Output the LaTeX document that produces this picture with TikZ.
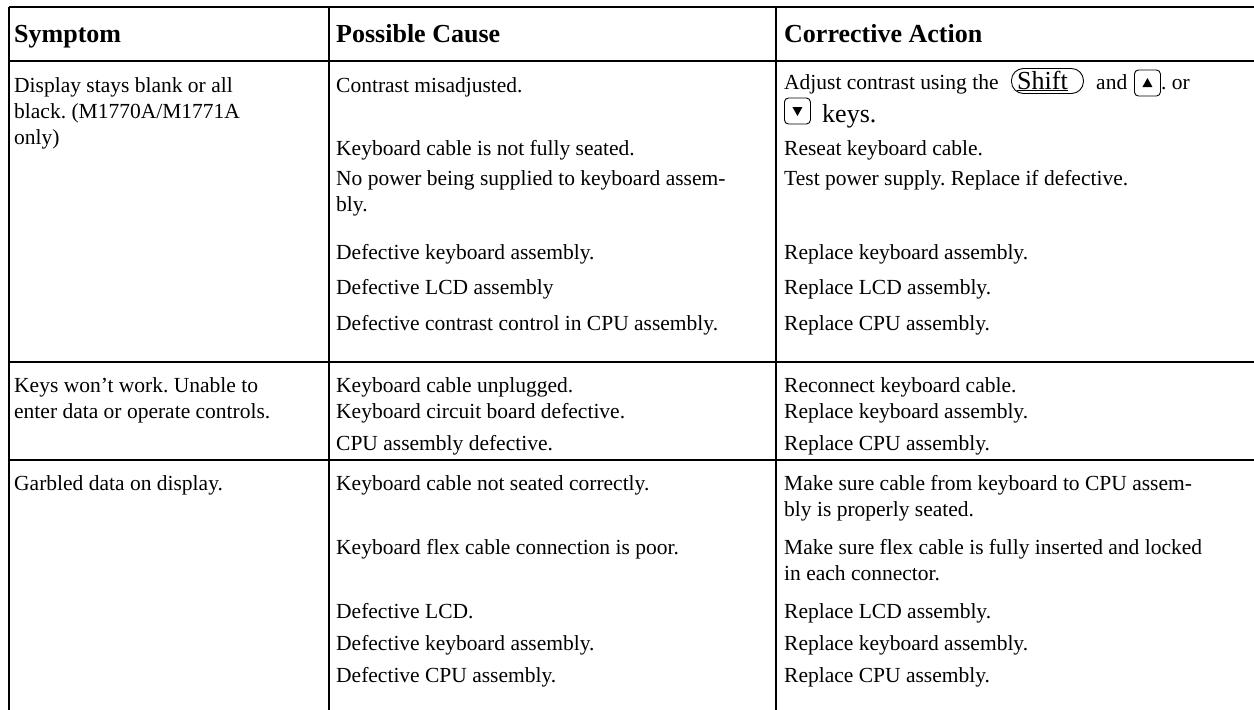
\documentclass[tikz,border=0pt]{standalone}
\usepackage{fontspec}
\setmainfont{Liberation Serif}
\frenchspacing
\begin{document}
\begin{tikzpicture}[x=1pt,y=-1pt,
  rule/.style={line width=1.6pt},
  txt/.style={anchor=base west,inner sep=0pt,font=\fontsize{21.5}{26}\selectfont\frenchspacing},
  head/.style={anchor=base west,inner sep=0pt,font=\fontsize{26}{30}\selectfont\bfseries},
  keybox/.style={draw,line width=0.9pt,rounded corners=4pt,minimum width=26pt,minimum height=26pt,inner sep=0pt},
  pill/.style={draw,line width=0.9pt,rounded corners=12pt,minimum height=25pt,inner sep=0pt}]
\useasboundingbox (0,0) rectangle (1254,710);
% rules
\draw[rule] (9,7) -- (1254,7);
\draw[rule] (9,61) -- (1254,61);
\draw[rule] (9,362) -- (1254,362);
\draw[rule] (9,460) -- (1254,460);
\draw[rule] (9,7) -- (9,710);
\draw[rule] (329,7) -- (329,710);
\draw[rule] (776,7) -- (776,710);
% header
\node[head] (h1) at (14,42) {Symptom};
\node[head] (h2) at (336,42) {Possible Cause};
\node[head] (h3) at (784,42) {Corrective Action};
% row 1
\node[txt] (s1a) at (14,92) {Display stays blank or all};
\node[txt] (s1b) at (14,118) {black. (M1770A/M1771A};
\node[txt] (s1c) at (14,144) {only)};
\node[txt] (c1) at (336,92) {Contrast misadjusted.};
\node[txt] (c2) at (336,155) {Keyboard cable is not fully seated.};
\node[txt] (c3a) at (336,185) {No power being supplied to keyboard assem-};
\node[txt] (c3b) at (336,211) {bly.};
\node[txt] (c4) at (336,259) {Defective keyboard assembly.};
\node[txt] (c5) at (336,294) {Defective LCD assembly};
\node[txt] (c6) at (336,330) {Defective contrast control in CPU assembly.};
\node[txt] (a1a) at (784,89) {Adjust contrast using the};
\node[pill,minimum width=72pt,anchor=west] (shift) at (1011,81) {\hspace*{-10pt}\fontsize{26}{26}\selectfont\underline{Shift}};
\node[txt] (a1and) at (1096,89) {and};
\node[keybox,anchor=west] (up) at (1134,83) {};
\fill ([xshift=-5pt,yshift=-4pt]up.center) -- ([xshift=5pt,yshift=-4pt]up.center) -- ([yshift=5pt]up.center) -- cycle;
\node[txt] (a1or) at (1161,89) {. or};
\node[keybox,anchor=west] (down) at (784,111) {};
\fill ([xshift=-5pt,yshift=4pt]down.center) -- ([xshift=5pt,yshift=4pt]down.center) -- ([yshift=-5pt]down.center) -- cycle;
\node[txt,font=\fontsize{26}{26}\selectfont] (a1b) at (822,122) {keys.};
\node[txt] (a2) at (784,155) {Reseat keyboard cable.};
\node[txt] (a3) at (784,185) {Test power supply. Replace if defective.};
\node[txt] (a4) at (784,259) {Replace keyboard assembly.};
\node[txt] (a5) at (784,294) {Replace LCD assembly.};
\node[txt] (a6) at (784,330) {Replace CPU assembly.};
% row 2
\node[txt] (s2a) at (14,392) {Keys won’t work. Unable to};
\node[txt] (s2b) at (14,418) {enter data or operate controls.};
\node[txt] (c7) at (336,392) {Keyboard cable unplugged.};
\node[txt] (c8) at (336,418) {Keyboard circuit board defective.};
\node[txt] (c9) at (336,450) {CPU assembly defective.};
\node[txt] (a7) at (784,392) {Reconnect keyboard cable.};
\node[txt] (a8) at (784,418) {Replace keyboard assembly.};
\node[txt] (a9) at (784,450) {Replace CPU assembly.};
% row 3
\node[txt] (s3) at (14,490) {Garbled data on display.};
\node[txt] (c10) at (336,490) {Keyboard cable not seated correctly.};
\node[txt] (c11) at (336,554) {Keyboard flex cable connection is poor.};
\node[txt] (c12) at (336,618) {Defective LCD.};
\node[txt] (c13) at (336,650) {Defective keyboard assembly.};
\node[txt] (c14) at (336,682) {Defective CPU assembly.};
\node[txt] (a10a) at (784,490) {Make sure cable from keyboard to CPU assem-};
\node[txt] (a10b) at (784,516) {bly is properly seated.};
\node[txt] (a11a) at (784,554) {Make sure flex cable is fully inserted and locked};
\node[txt] (a11b) at (784,580) {in each connector.};
\node[txt] (a12) at (784,618) {Replace LCD assembly.};
\node[txt] (a13) at (784,650) {Replace keyboard assembly.};
\node[txt] (a14) at (784,682) {Replace CPU assembly.};
\end{tikzpicture}
\end{document}
